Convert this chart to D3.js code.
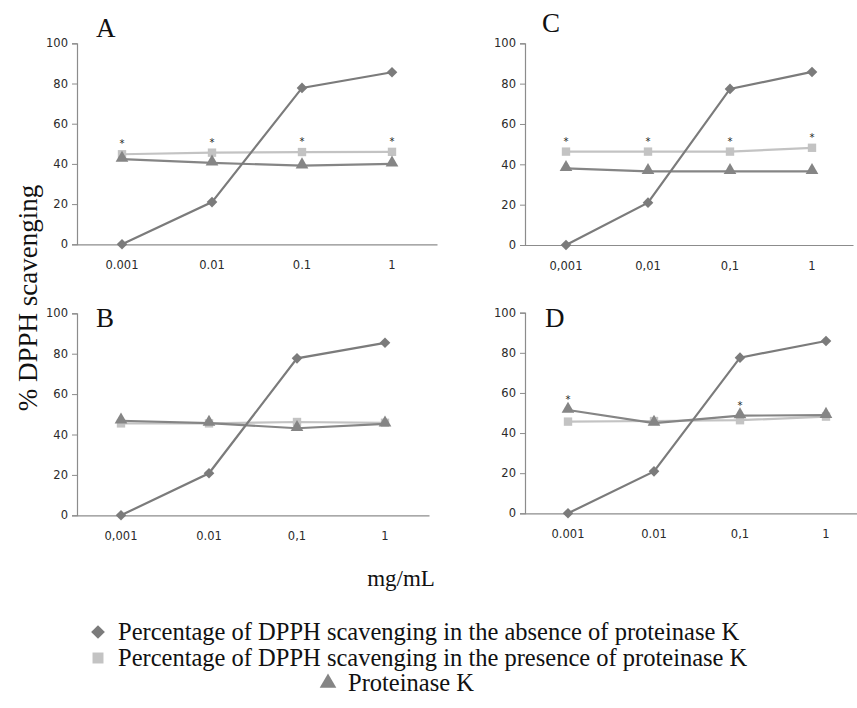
<!DOCTYPE html>
<html><head><meta charset="utf-8">
<script src="https://cdn.jsdelivr.net/npm/d3@7"></script>
<style>body{margin:0;background:#fff}svg{display:block}</style>
</head><body>
<svg id="c" width="857" height="708"></svg>
<script>
const categories = ["0.001","0.01","0.1","1"];
const panelNames = ["A","C","B","D"];
const tickLabelsA = ["0.001","0.01","0.1","1"];
const tickLabelsC = ["0,001","0,01","0,1","1"];
const tickLabelsB = ["0,001","0.01","0,1","1"];
const tickLabelsD = ["0.001","0.01","0,1","1"];
const yTicks = [0,20,40,60,80,100];

const absenceA = [0, 21, 77.8, 85.6];
const presenceA = [44.8, 45.6, 45.9, 46];
const proteinaseA = [42.4, 40.5, 39.1, 40];
const starsA = ["presence","presence","presence","presence"];

const absenceC = [0, 21, 77.4, 85.8];
const presenceC = [46.3, 46.3, 46.3, 48.2];
const proteinaseC = [38, 36.5, 36.5, 36.5];
const starsC = ["presence","presence","presence","presence"];

const absenceB = [0, 20.8, 77.7, 85.4];
const presenceB = [45.5, 45.5, 46.2, 45.8];
const proteinaseB = [46.8, 45.6, 43.1, 45.3];
const starsB = [null,null,null,null];

const absenceD = [0, 20.9, 77.6, 85.9];
const presenceD = [45.7, 46, 46.4, 48.2];
const proteinaseD = [51.5, 45, 48.7, 48.9];
const starsD = ["proteinase",null,"proteinase",null];

const legendLabels = [
  "Percentage of DPPH scavenging in the absence of proteinase K",
  "Percentage of DPPH scavenging in the presence of proteinase K",
  "Proteinase K"
];

const panels = [
  {name:"A", ticks:tickLabelsA, absence:absenceA, presence:presenceA, proteinase:proteinaseA, stars:starsA,
   x0:77, x1:437, yTop:43.3, yBot:244.3, lx:96, ly:37},
  {name:"C", ticks:tickLabelsC, absence:absenceC, presence:presenceC, proteinase:proteinaseC, stars:starsC,
   x0:525, x1:853, yTop:43.3, yBot:245, lx:542, ly:32},
  {name:"B", ticks:tickLabelsB, absence:absenceB, presence:presenceB, proteinase:proteinaseB, stars:starsB,
   x0:77, x1:429, yTop:313.3, yBot:515.3, lx:96, ly:327},
  {name:"D", ticks:tickLabelsD, absence:absenceD, presence:presenceD, proteinase:proteinaseD, stars:starsD,
   x0:525, x1:869, yTop:312.7, yBot:513.3, lx:545, ly:327}
];

const colAbs = "#7b7b7b", colPre = "#c3c3c3", colPro = "#858585";
const svg = d3.select("#c");
const serif = "'Liberation Serif','Times New Roman',serif";
const sans = "'DejaVu Sans',Verdana,sans-serif";

const sym = {
  absence: d3.symbol().type(d3.symbolDiamond2).size(72),
  presence: d3.symbol().type(d3.symbolSquare).size(70),
  proteinase: d3.symbol().type(d3.symbolTriangle).size(70)
};

panels.forEach(p => {
  const g = svg.append("g");
  const x = d3.scaleBand().domain(categories).range([p.x0, p.x1]).padding(0);
  const y = d3.scaleLinear().domain([0,100]).range([p.yBot, p.yTop]);
  const cx = c => x(c) + x.bandwidth()/2;

  const ya = g.append("g").attr("transform", `translate(${p.x0},0)`)
    .call(d3.axisLeft(y).tickValues(yTicks).tickSize(5).tickPadding(4));
  ya.select(".domain").attr("stroke","#8c8c8c").attr("stroke-width",1.2);
  ya.selectAll(".tick line").attr("stroke","#8c8c8c");
  ya.selectAll(".tick text").attr("font-family",sans).attr("font-size",11.5).attr("fill","#2a2a2a");

  const xa = g.append("g").attr("transform", `translate(0,${p.yBot})`)
    .call(d3.axisBottom(x).tickSize(0).tickPadding(17).tickFormat((d,i)=>p.ticks[i]));
  xa.select(".domain").attr("stroke","#8c8c8c").attr("stroke-width",1.2);
  xa.selectAll(".tick text").attr("font-family",sans).attr("font-size",11.5).attr("fill","#2a2a2a");

  const line = d3.line().x((d,i)=>cx(categories[i])).y(d=>y(d));
  const series = [
    {key:"presence", vals:p.presence, col:colPre},
    {key:"proteinase", vals:p.proteinase, col:colPro},
    {key:"absence", vals:p.absence, col:colAbs}
  ];
  series.forEach(s => {
    g.append("path").attr("d", line(s.vals)).attr("fill","none")
      .attr("stroke", s.col).attr("stroke-width", 2.2);
    g.selectAll(null).data(s.vals).enter().append("path")
      .attr("d", sym[s.key])
      .attr("transform", (d,i)=>`translate(${cx(categories[i])},${y(d) + (s.key==="proteinase"?-1:0)})`)
      .attr("fill", s.col);
  });
  p.stars.forEach((st,i) => {
    if (!st) return;
    const v = p[st][i];
    g.append("text").attr("x", cx(categories[i])).attr("y", y(v) - 7)
      .attr("text-anchor","middle").attr("font-family",sans).attr("font-size",10)
      .attr("fill","#222").text("*");
  });
  g.append("text").attr("x", p.lx).attr("y", p.ly).attr("font-family",serif)
    .attr("font-size",27).attr("fill","#111").text(p.name);
});

svg.append("text").attr("transform","translate(37,298) rotate(-90)")
  .attr("text-anchor","middle").attr("font-family",serif).attr("font-size",27)
  .attr("fill","#111").text("% DPPH scavenging");

svg.append("text").attr("x",401).attr("y",586).attr("text-anchor","middle")
  .attr("font-family",serif).attr("font-size",23).attr("fill","#111").text("mg/mL");

const legCols = [colAbs, colPre, colPro];
const legTypes = [d3.symbolDiamond2, d3.symbolSquare, d3.symbolTriangle];
const legY = [632, 658, 683];
const legX = [98, 98, 328];
legendLabels.forEach((t,i) => {
  svg.append("path").attr("d", d3.symbol().type(legTypes[i]).size(120)())
    .attr("transform",`translate(${legX[i]},${legY[i]})`).attr("fill", legCols[i]);
  svg.append("text").attr("x", legX[i]+20).attr("y", legY[i]+8)
    .attr("font-family",serif).attr("font-size",24.5).attr("fill","#111").text(t);
});
</script>
</body></html>
